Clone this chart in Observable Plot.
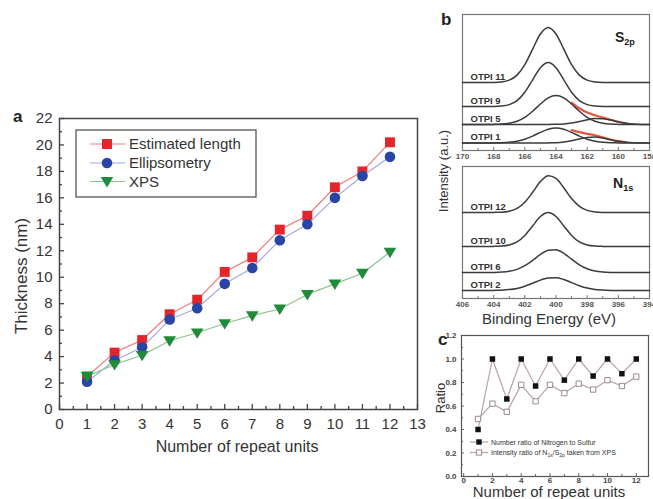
<!DOCTYPE html>
<html><head><meta charset="utf-8">
<script src="https://cdn.jsdelivr.net/npm/d3@7"></script>
<script src="https://cdn.jsdelivr.net/npm/@observablehq/plot@0.6"></script>
<style>
html,body{margin:0;padding:0;background:#fff;}
#root{position:relative;width:653px;height:499px;overflow:hidden;background:#fff;font-family:"Liberation Sans",Arial,sans-serif;}
.panel{position:absolute;}
#overlay{position:absolute;left:0;top:0;pointer-events:none;}
</style></head><body><div id="root"></div>
<script>
// ---------- Panel a data ----------
const repeatUnits = [1,2,3,4,5,6,7,8,9,10,11,12];
const estimatedLength = [2.5,4.3,5.25,7.2,8.3,10.4,11.5,13.6,14.65,16.8,18.0,20.2];
const ellipsometry = [2.1,3.7,4.7,6.8,7.65,9.5,10.7,12.8,14.0,16.0,17.65,19.1];
const xpsThickness = [2.5,3.4,4.1,5.2,5.8,6.5,7.1,7.6,8.7,9.5,10.3,11.9];
const aXTicks = [0,1,2,3,4,5,6,7,8,9,10,11,12,13];
const aXMinor = [0.5,1.5,2.5,3.5,4.5,5.5,6.5,7.5,8.5,9.5,10.5,11.5,12.5];
const aYTicks = [0,2,4,6,8,10,12,14,16,18,20,22];
const aYMinor = [1,3,5,7,9,11,13,15,17,19,21];

// ---------- Panel b data (S2p) ----------
const s2pEnergy = [170,169.5,169,168.5,168,167.5,167,166.5,166,165.5,165,164.5,164,163.5,163,162.5,162,161.5,161,160.5,160,159.5,159,158.5,158];
const s2pSamples = ["OTPI 11","OTPI 9","OTPI 5","OTPI 1"];
const s2pBaseline = [68, 44, 26, 7.5];
const s2pOTPI11 = [0,0,0,0,0.1,0.6,2.4,7.4,17.9,33.4,48.5,55,48.5,33.4,17.9,7.4,2.4,0.6,0.1,0,0,0,0,0,0];
const s2pOTPI9  = [0,0,0,0,0.1,0.5,1.9,5.9,14.3,26.7,38.8,44,38.8,26.7,14.3,5.9,1.9,0.5,0.1,0,0,0,0,0,0];
const s2pOTPI5main  = [0,0,0,0,0.1,0.4,1.3,3.3,7.2,13.3,20.5,26.6,29,26.6,20.5,13.3,7.2,3.3,1.3,0.4,0.1,0,0,0,0];
const s2pOTPI5minor = [0,0,0,0,0,0,0,0,0,0,0,0,0.2,0.5,1.4,2.9,4.7,5.9,5.7,4.4,2.6,1.2,0.4,0.1,0];
const s2pOTPI1main  = [0,0,0,0,0.1,0.2,0.7,1.7,3.7,6.9,10.6,13.8,15,13.8,10.6,6.9,3.7,1.7,0.7,0.2,0.1,0,0,0,0];
const s2pOTPI1minor = [0,0,0,0,0,0,0,0,0,0,0,0.1,0.3,1.0,2.3,4.0,5.5,6.0,5.0,3.3,1.7,0.7,0.2,0,0];
const s2pTicks = [170,168,166,164,162,160,158];
const s2pMinor = [169,167,165,163,161,159];

// ---------- Panel b data (N1s) ----------
const n1sEnergy = [406,405.5,405,404.5,404,403.5,403,402.5,402,401.5,401,400.5,400,399.5,399,398.5,398,397.5,397,396.5,396,395.5,395,394.5,394];
const n1sSamples = ["OTPI 12","OTPI 10","OTPI 6","OTPI 2"];
const n1sBaseline = [86, 52, 26, 8];
const n1sOTPI12 = [0,0,0,0,0.1,0.3,1.3,4.1,10.3,20.2,30.9,36.8,34.2,24.7,13.9,6.1,2.1,0.6,0.1,0,0,0,0,0,0];
const n1sOTPI10 = [0,0,0,0,0.1,0.4,1.5,4.6,11.1,20.6,30,34,30,20.6,11.1,4.6,1.5,0.4,0.1,0,0,0,0,0,0];
const n1sOTPI6  = [0,0,0,0,0.1,0.4,1.2,3.1,6.8,12.1,18.1,22.2,22.7,19.1,13.3,7.7,3.7,1.5,0.5,0.1,0,0,0,0,0];
const n1sOTPI2  = [0,0,0,0,0.1,0.3,0.9,2.1,4.2,7.2,10.4,12.6,12.8,11.0,7.9,4.8,2.4,1.0,0.4,0.1,0,0,0,0,0];
const n1sTicks = [406,404,402,400,398,396,394];
const n1sMinor = [405,403,401,399,397,395];

// ---------- Panel c data ----------
const ratioNumber = [0.40,1.0,0.66,1.0,0.77,1.0,0.82,1.0,0.855,1.0,0.875,1.0];
const ratioIntensity = [0.49,0.62,0.55,0.78,0.64,0.78,0.71,0.79,0.74,0.82,0.77,0.85];
const cXTicks = [0,2,4,6,8,10,12];
const cXMinor = [1,3,5,7,9,11];
const cYTicks = [0,0.2,0.4,0.6,0.8,1.0,1.2];
const cYMinor = [0.1,0.3,0.5,0.7,0.9,1.1];

// ---------- colours ----------
const redM = "#e2262b", redL = "#f07b7b";
const bluM = "#2a44a6", bluL = "#a2a8dc";
const grnM = "#1f8b3b", grnL = "#8cc48c";
const FONT = "'Liberation Sans', Arial, sans-serif";

const triangleDown = {
  draw(ctx, size) {
    const s = Math.sqrt(size);
    ctx.moveTo(-s * 0.65, -s * 0.45);
    ctx.lineTo(s * 0.65, -s * 0.45);
    ctx.lineTo(0, s * 0.62);
    ctx.closePath();
  }
};

const root = document.getElementById("root");
function place(svg, left, top) {
  const d = document.createElement("div");
  d.className = "panel";
  d.style.left = left + "px"; d.style.top = top + "px";
  d.appendChild(svg);
  root.appendChild(d);
}
const blank = () => "";

// ---------- Panel a ----------
const rowsA = repeatUnits.map((x, i) => ({x, est: estimatedLength[i], ell: ellipsometry[i], xps: xpsThickness[i]}));
const plotA = Plot.plot({
  width: 440, height: 370,
  marginLeft: 59, marginRight: 23, marginTop: 18, marginBottom: 61,
  x: {domain: [0, 13], label: null},
  y: {domain: [0, 22], label: null},
  style: {fontFamily: FONT, background: "transparent", color: "#333"},
  marks: [
    Plot.axisX({ticks: aXTicks, tickSize: 0, tickPadding: 9, fontSize: 15, fill: "#333", label: null}),
    Plot.axisX({ticks: aXTicks, tickSize: -5, tickFormat: blank, label: null, stroke: "#444", strokeWidth: 1.3}),
    Plot.axisX({ticks: aXMinor, tickSize: -3, tickFormat: blank, label: null, stroke: "#444", strokeWidth: 1.3}),
    Plot.axisY({ticks: aYTicks, tickSize: 0, tickPadding: 7, fontSize: 15, fill: "#333", label: null}),
    Plot.axisY({ticks: aYTicks, tickSize: -5, tickFormat: blank, label: null, stroke: "#444", strokeWidth: 1.3}),
    Plot.axisY({ticks: aYMinor, tickSize: -3, tickFormat: blank, label: null, stroke: "#444", strokeWidth: 1.3}),
    Plot.frame({stroke: "#444", strokeWidth: 1.5}),
    Plot.line(rowsA, {x: "x", y: "est", stroke: redL, strokeWidth: 1.2}),
    Plot.dot(rowsA, {x: "x", y: "est", symbol: "square", r: 5.6, fill: redM}),
    Plot.line(rowsA, {x: "x", y: "ell", stroke: bluL, strokeWidth: 1.2}),
    Plot.dot(rowsA, {x: "x", y: "ell", symbol: "circle", r: 5.3, fill: bluM}),
    Plot.line(rowsA, {x: "x", y: "xps", stroke: grnL, strokeWidth: 1.2}),
    Plot.dot(rowsA, {x: "x", y: "xps", symbol: triangleDown, r: 5.5, fill: grnM})
  ]
});
place(plotA, 0, 100);

// ---------- Panel b helpers ----------
function curveRows(id, energies, base, vals) {
  return vals.map((v, i) => ({id, e: energies[i], v: base + v}));
}
function envRows(id, energies, base, a, b) {
  return a.map((v, i) => ({id, e: energies[i], v: base + v + b[i]}));
}
const curveStroke = "#3b3b3b";

// S2p
const s2pComp = [
  ...curveRows("OTPI 11", s2pEnergy, s2pBaseline[0], s2pOTPI11),
  ...curveRows("OTPI 9", s2pEnergy, s2pBaseline[1], s2pOTPI9),
  ...curveRows("OTPI 5 main", s2pEnergy, s2pBaseline[2], s2pOTPI5main),
  ...curveRows("OTPI 5 minor", s2pEnergy, s2pBaseline[2], s2pOTPI5minor),
  ...curveRows("OTPI 1 main", s2pEnergy, s2pBaseline[3], s2pOTPI1main),
  ...curveRows("OTPI 1 minor", s2pEnergy, s2pBaseline[3], s2pOTPI1minor)
];
// red envelope shown only where the low-energy component contributes
const s2pEnv = [
  ...envRows("OTPI 5", s2pEnergy, s2pBaseline[2], s2pOTPI5main, s2pOTPI5minor),
  ...envRows("OTPI 1", s2pEnergy, s2pBaseline[3], s2pOTPI1main, s2pOTPI1minor)
].filter(d => d.e <= 163 && d.e >= 159.5);
const s2pLabels = s2pSamples.map((name, i) => ({name, base: s2pBaseline[i]}));

function bAxes(ticks, minor) {
  return [
    Plot.axisX({ticks, tickSize: 0, tickPadding: 3, fontSize: 8, fontWeight: "bold", fill: "#555", label: null}),
    Plot.axisX({ticks, tickSize: -3, tickFormat: blank, label: null, stroke: "#777"}),
    Plot.axisX({ticks: minor, tickSize: -2, tickFormat: blank, label: null, stroke: "#777"})
  ];
}

const plotS2p = Plot.plot({
  width: 213, height: 170,
  marginLeft: 22, marginRight: 4, marginTop: 14, marginBottom: 20,
  x: {domain: [170, 158], label: null},
  y: {domain: [0, 136], label: null, axis: null},
  style: {fontFamily: FONT, background: "transparent", color: "#333"},
  marks: [
    ...bAxes(s2pTicks, s2pMinor),
    Plot.frame({stroke: "#777", strokeWidth: 1.2}),
    Plot.line(s2pEnv, {x: "e", y: "v", z: "id", stroke: "#e4583f", strokeWidth: 2.2, curve: "monotone-x"}),
    Plot.line(s2pComp, {x: "e", y: "v", z: "id", stroke: curveStroke, strokeWidth: 1.5, curve: "monotone-x"}),
    Plot.text(s2pLabels, {frameAnchor: "left", y: "base", dx: 8, dy: -3, text: "name", textAnchor: "start", lineAnchor: "bottom", fontSize: 9.5, fontWeight: "bold", fill: "#333"})
  ]
});
place(plotS2p, 440, 0);

// N1s
const n1sComp = [
  ...curveRows("OTPI 12", n1sEnergy, n1sBaseline[0], n1sOTPI12),
  ...curveRows("OTPI 10", n1sEnergy, n1sBaseline[1], n1sOTPI10),
  ...curveRows("OTPI 6", n1sEnergy, n1sBaseline[2], n1sOTPI6),
  ...curveRows("OTPI 2", n1sEnergy, n1sBaseline[3], n1sOTPI2)
];
const n1sLabels = n1sSamples.map((name, i) => ({name, base: n1sBaseline[i]}));
const plotN1s = Plot.plot({
  width: 213, height: 170,
  marginLeft: 22, marginRight: 4, marginTop: 16, marginBottom: 22,
  x: {domain: [406, 394], label: null},
  y: {domain: [0, 132], label: null, axis: null},
  style: {fontFamily: FONT, background: "transparent", color: "#333"},
  marks: [
    ...bAxes(n1sTicks, n1sMinor),
    Plot.frame({stroke: "#777", strokeWidth: 1.2}),
    Plot.line(n1sComp, {x: "e", y: "v", z: "id", stroke: curveStroke, strokeWidth: 1.5, curve: "monotone-x"}),
    Plot.text(n1sLabels, {frameAnchor: "left", y: "base", dx: 8, dy: -3, text: "name", textAnchor: "start", lineAnchor: "bottom", fontSize: 9.5, fontWeight: "bold", fill: "#333"})
  ]
});
place(plotN1s, 440, 150);

// ---------- Panel c ----------
const rowsC = repeatUnits.map((x, i) => ({x, num: ratioNumber[i], inten: ratioIntensity[i]}));
const cLine = "#bba2a2";
const plotC = Plot.plot({
  width: 213, height: 179,
  marginLeft: 21, marginRight: 5, marginTop: 15, marginBottom: 23,
  x: {domain: [-0.15, 12.85], label: null},
  y: {domain: [0, 1.2], label: null},
  style: {fontFamily: FONT, background: "transparent", color: "#333"},
  marks: [
    Plot.axisX({ticks: cXTicks, tickSize: 0, tickPadding: 1, fontSize: 8, fontWeight: "bold", fill: "#444", label: null}),
    Plot.axisX({ticks: cXTicks, tickSize: -3, tickFormat: blank, label: null, stroke: "#666"}),
    Plot.axisX({ticks: cXMinor, tickSize: -2, tickFormat: blank, label: null, stroke: "#666"}),
    Plot.axisY({ticks: cYTicks, tickSize: 0, tickPadding: 5, fontSize: 8, fontWeight: "bold", fill: "#444", tickFormat: d3.format(".1f"), label: null}),
    Plot.axisY({ticks: cYTicks, tickSize: -3, tickFormat: blank, label: null, stroke: "#666"}),
    Plot.axisY({ticks: cYMinor, tickSize: -2, tickFormat: blank, label: null, stroke: "#666"}),
    Plot.frame({stroke: "#555", strokeWidth: 1.2}),
    Plot.line(rowsC, {x: "x", y: "num", stroke: cLine, strokeWidth: 1.2}),
    Plot.line(rowsC, {x: "x", y: "inten", stroke: cLine, strokeWidth: 1.2}),
    Plot.dot(rowsC, {x: "x", y: "inten", symbol: "square", r: 3.0, fill: "white", stroke: "#9c8a8a", strokeWidth: 1}),
    Plot.dot(rowsC, {x: "x", y: "num", symbol: "square", r: 3.1, fill: "#111"})
  ]
});
place(plotC, 440, 320);

// ---------- overlay: titles, legends, panel letters ----------
const ns = "http://www.w3.org/2000/svg";
const ov = document.createElementNS(ns, "svg");
ov.setAttribute("id", "overlay");
ov.setAttribute("width", 653); ov.setAttribute("height", 499);
ov.setAttribute("font-family", FONT);
ov.innerHTML = `
  <text x="13" y="122" font-size="17" font-weight="bold" fill="#222">a</text>
  <text x="441" y="25" font-size="17" font-weight="bold" fill="#222">b</text>
  <text x="438" y="345" font-size="17" font-weight="bold" fill="#222">c</text>

  <text transform="translate(27,276) rotate(-90)" text-anchor="middle" font-size="17" fill="#333">Thickness (nm)</text>
  <text x="237" y="452" text-anchor="middle" font-size="16" fill="#333">Number of repeat units</text>

  <g>
    <rect x="76" y="130" width="180" height="67" fill="white" stroke="#555" stroke-width="1.3"/>
    <line x1="90" x2="125" y1="144" y2="144" stroke="${redL}" stroke-width="1.2"/>
    <rect x="102" y="139" width="10" height="10" fill="${redM}"/>
    <text x="129" y="149" font-size="15" fill="#333">Estimated length</text>
    <line x1="90" x2="125" y1="163" y2="163" stroke="${bluL}" stroke-width="1.2"/>
    <circle cx="107" cy="163" r="5.3" fill="${bluM}"/>
    <text x="129" y="168" font-size="15" fill="#333">Ellipsometry</text>
    <line x1="90" x2="125" y1="181.5" y2="181.5" stroke="${grnL}" stroke-width="1.2"/>
    <path d="M100.7,177.1 L113.3,177.1 L107,187.5 Z" fill="${grnM}"/>
    <text x="129" y="187" font-size="15" fill="#333">XPS</text>
  </g>

  <text x="615" y="42" font-size="14" font-weight="bold" fill="#222">S<tspan dy="3" font-size="9">2p</tspan></text>
  <text x="613" y="188" font-size="14" font-weight="bold" fill="#222">N<tspan dy="3" font-size="9">1s</tspan></text>
  <text transform="translate(448,171) rotate(-90)" text-anchor="middle" font-size="13" fill="#333">Intensity (a.u.)</text>
  <text x="549" y="324" text-anchor="middle" font-size="15" fill="#333">Binding Energy (eV)</text>

  <text transform="translate(445,398) rotate(-90)" text-anchor="middle" font-size="13" fill="#333">Ratio</text>
  <text x="549" y="497" text-anchor="middle" font-size="15" fill="#333">Number of repeat units</text>
  <g>
    <line x1="470" x2="488" y1="442" y2="442" stroke="${cLine}" stroke-width="1.2"/>
    <rect x="476.3" y="439.3" width="5.4" height="5.4" fill="#111"/>
    <text x="491" y="444.5" font-size="7" fill="#333">Number ratio of Nitrogen to Sulfur</text>
    <line x1="470" x2="488" y1="452.5" y2="452.5" stroke="${cLine}" stroke-width="1.2"/>
    <rect x="476.4" y="449.9" width="5.2" height="5.2" fill="white" stroke="#9c8a8a"/>
    <text x="491" y="455" font-size="7" fill="#333">Intensity ratio of N<tspan dy="1.5" font-size="5">1s</tspan><tspan dy="-1.5">/S</tspan><tspan dy="1.5" font-size="5">2p</tspan><tspan dy="-1.5"> taken from XPS</tspan></text>
  </g>
`;
root.appendChild(ov);
</script>
</body></html>
